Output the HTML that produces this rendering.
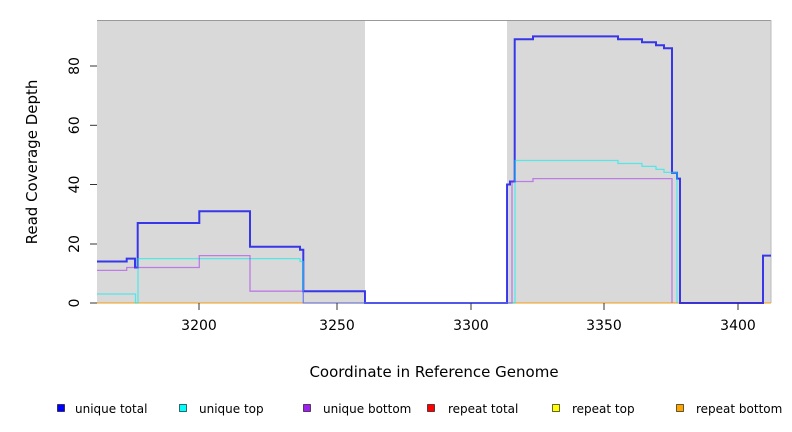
<!DOCTYPE html>
<html><head><style>body{margin:0;background:#fff}svg{display:block}</style></head><body>
<svg width="792" height="432" xmlns="http://www.w3.org/2000/svg" font-family="DejaVu Sans, Liberation Sans, sans-serif">
<rect x="97" y="20" width="268" height="283" fill="#d9d9d9"/>
<rect x="507" y="20" width="264" height="283" fill="#d9d9d9"/>
<line x1="97" y1="20.5" x2="771" y2="20.5" stroke="#999" stroke-width="1"/>
<line x1="771" y1="20" x2="771" y2="303" stroke="#bbb"/>
<line x1="97" y1="303" x2="771" y2="303" stroke="#f39c12" stroke-width="1"/>
<polyline fill="none" stroke="#0000ee" stroke-opacity="0.75" stroke-width="2" points="97,261.5 126.7,261.5 126.7,258.6 135,258.6 135,267.5 137.7,267.5 137.7,223 199.3,223 199.3,211.2 250,211.2 250,246.7 300,246.7 300,249.7 303.3,249.7 303.3,291.2 365,291.2 365,303 507,303 507,184.5 510,184.5 510,181.5 514.7,181.5 514.7,39.3 533,39.3 533,36.4 618,36.4 618,39.3 642,39.3 642,42.3 656,42.3 656,45.3 664,45.3 664,48.2 672,48.2 672,172.7 677,172.7 677,178.6 680,178.6 680,303 763,303 763,255.6 771,255.6"/>
<polyline fill="none" stroke="#00eeee" stroke-opacity="0.6" stroke-width="1.3" points="97,294 135.5,294 135.5,303 138,303 138,258.6 300,258.6 300,261.5 303.3,261.5 303.3,303 515,303 515,160.5 618,160.5 618,163.5 642,163.5 642,166.4 656,166.4 656,169.4 664,169.4 664,172.4 677,172.4 677,303"/>
<polyline fill="none" stroke="#a020f0" stroke-opacity="0.5" stroke-width="1.3" points="97,270.4 126.7,270.4 126.7,267.5 199.3,267.5 199.3,255.6 250,255.6 250,291.2 303.3,291.2 303.3,303 507,303 512,303 512,181.5 533,181.5 533,178.6 672,178.6 672,303"/>
<g stroke="#333" stroke-width="1">
<line x1="97" y1="303" x2="90" y2="303"/><line x1="97" y1="244" x2="90" y2="244"/><line x1="97" y1="184.5" x2="90" y2="184.5"/><line x1="97" y1="125.3" x2="90" y2="125.3"/><line x1="97" y1="66" x2="90" y2="66"/>
<line x1="199" y1="303" x2="199" y2="310"/><line x1="337" y1="303" x2="337" y2="310"/><line x1="471" y1="303" x2="471" y2="310"/><line x1="604" y1="303" x2="604" y2="310"/><line x1="738" y1="303" x2="738" y2="310"/>
</g>
<g font-size="14" fill="#000" text-anchor="middle">
<text transform="translate(74,303) rotate(-90)" dy="5">0</text>
<text transform="translate(74,244) rotate(-90)" dy="5">20</text>
<text transform="translate(74,184.5) rotate(-90)" dy="5">40</text>
<text transform="translate(74,125.3) rotate(-90)" dy="5">60</text>
<text transform="translate(74,66) rotate(-90)" dy="5">80</text>
<text x="199" y="330">3200</text><text x="337" y="330">3250</text><text x="471" y="330">3300</text><text x="604" y="330">3350</text><text x="738" y="330">3400</text>
<text x="434" y="377" font-size="15">Coordinate in Reference Genome</text>
<text transform="translate(37,162) rotate(-90)" font-size="15">Read Coverage Depth</text>
</g>
<g font-size="12" fill="#000" stroke="#000" stroke-width="0.6">
<rect x="57.5" y="404.5" width="7" height="7" fill="#0000ff"/>
<rect x="179.5" y="404.5" width="7" height="7" fill="#00ffff"/>
<rect x="303.5" y="404.5" width="7" height="7" fill="#a020f0"/>
<rect x="427.5" y="404.5" width="7" height="7" fill="#ff0000"/>
<rect x="552.5" y="404.5" width="7" height="7" fill="#ffff00"/>
<rect x="676.5" y="404.5" width="7" height="7" fill="#ffa500"/>
</g>
<g font-size="12" fill="#000">
<text x="75" y="413">unique total</text>
<text x="199" y="413">unique top</text>
<text x="323" y="413">unique bottom</text>
<text x="448" y="413">repeat total</text>
<text x="572" y="413">repeat top</text>
<text x="696" y="413">repeat bottom</text>
</g>
</svg>
</body></html>
